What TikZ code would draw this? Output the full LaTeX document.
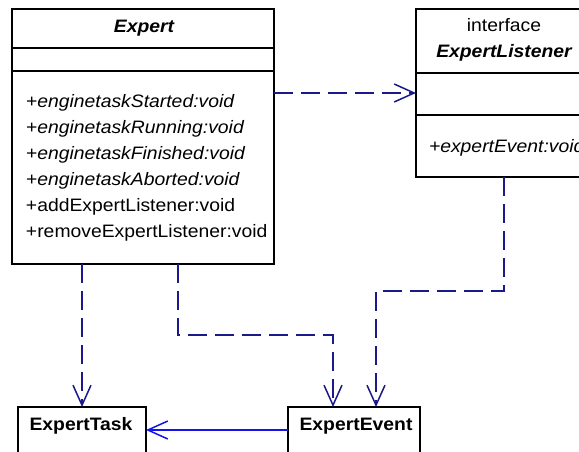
\documentclass[tikz,border=0pt]{standalone}
\usepackage{fontspec}
\setmainfont{Liberation Sans}
\newfontfamily\umlfont[FakeStretch=1.075]{Liberation Sans}
\usetikzlibrary{arrows.meta}
\definecolor{depnavy}{RGB}{26,26,138}
\definecolor{assocblue}{RGB}{20,20,235}
\tikzset{
  classbox/.style={draw=black, line width=1.6pt, inner sep=0pt, outer sep=0pt, fill=white},
  divider/.style={draw=black, line width=1.6pt},
  umltext/.style={inner sep=0pt, outer sep=0pt, font=\umlfont\fontsize{18}{21}\selectfont},
  opentip/.style={-{Straight Barb[length=20pt,width=18pt]}},
  depline/.style={draw=depnavy, line width=1.5pt, dash pattern=on 19pt off 8pt, opentip},
  assocline/.style={draw=assocblue, line width=1.5pt, opentip}
}
\begin{document}
\begin{tikzpicture}[x=1pt,y=-1pt]
\useasboundingbox (0,0) rectangle (579,452);
\clip (0,0) rectangle (579,452);
\fill[white] (0,0) rectangle (579,452);

% class boxes
\node[classbox, minimum width=262pt, minimum height=255pt] (expert) at (143,136.5) {};
\node[classbox, minimum width=176pt, minimum height=168pt] (listener) at (504,93) {};
\node[classbox, minimum width=128pt, minimum height=73pt] (task) at (82,443.5) {};
\node[classbox, minimum width=132pt, minimum height=73pt] (event) at (354,443.5) {};

% compartment lines
\draw[divider] (12,48) -- (274,48);
\draw[divider] (12,71) -- (274,71);
\draw[divider] (416,73) -- (592,73);
\draw[divider] (416,115) -- (592,115);

% Expert
\node[umltext, anchor=base] (expertname) at (144,33) {\bfseries\itshape Expert};
\node[umltext, anchor=base west] (m1) at (26,108) {\itshape +enginetaskStarted:void};
\node[umltext, anchor=base west] (m2) at (26,133.8) {\itshape +enginetaskRunning:void};
\node[umltext, anchor=base west] (m3) at (26,159.6) {\itshape +enginetaskFinished:void};
\node[umltext, anchor=base west] (m4) at (26,185.4) {\itshape +enginetaskAborted:void};
\node[umltext, anchor=base west] (m5) at (26,211.2) {+addExpertListener:void};
\node[umltext, anchor=base west] (m6) at (26,237) {+removeExpertListener:void};

% ExpertListener
\node[umltext, anchor=base] (stereo) at (504,32) {interface};
\node[umltext, anchor=base] (listenername) at (504,58) {\bfseries\itshape ExpertListener};
\node[umltext, anchor=base west] (lm1) at (429,152) {\itshape +expertEvent:void};

% ExpertTask and ExpertEvent
\node[umltext, anchor=base] (taskname) at (81,430) {\bfseries ExpertTask};
\node[umltext, anchor=base] (eventname) at (356,430) {\bfseries ExpertEvent};

% dependencies
\draw[depline] (expert.east |- listener.center) -- (listener.west);
\draw[depline] (expert.south -| task.north) -- (task.north);
\draw[depline] ([xshift=35pt]expert.south) -- ++(0,71) -| ([xshift=-21pt]event.north);
\draw[depline] (listener.south) -- ++(0,114) -| ([xshift=22pt]event.north);

% association
\draw[assocline] ([yshift=13.5pt]event.west) -- ([yshift=13.5pt]task.east);
\end{tikzpicture}
\end{document}
